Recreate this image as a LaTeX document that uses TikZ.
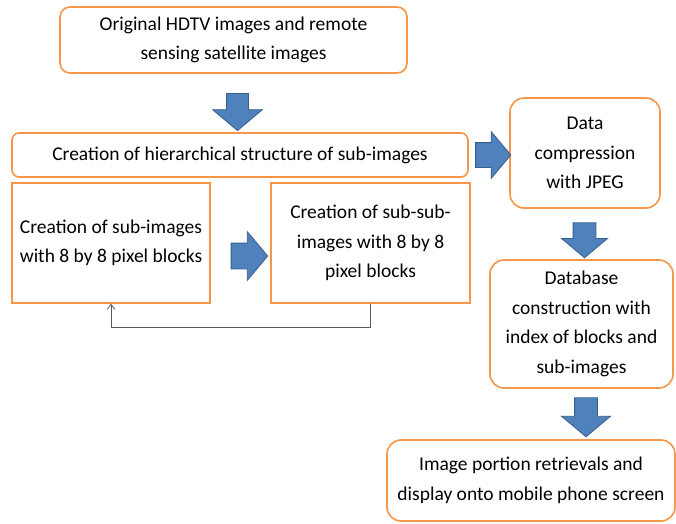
\documentclass[tikz,border=0pt]{standalone}
\usepackage{fontspec}
\setmainfont{Carlito}
\usetikzlibrary{positioning,arrows.meta,shapes.arrows}
\definecolor{orange400}{HTML}{F79646}
\definecolor{blue500}  {HTML}{4F81BD}
\definecolor{blue700}  {HTML}{3A5F8B}
\definecolor{grey700}  {HTML}{595959}
\tikzset{
  step box/.style={draw=orange400, line width=1.6pt, fill=white,
                 align=center, inner sep=0pt,
                 font=\fontsize{19.5}{29.5}\selectfont},
  rbox/.style  ={step box, rounded corners=#1},
  rbox/.default=10pt,
  sbox/.style  ={step box},
  % #1 = half the shaft width, #2 = head overhang on each side
  blk/.style 2 args={single arrow, draw=blue700, fill=blue500,
                 line width=0.8pt, inner sep=#1,
                 single arrow tip angle=100, single arrow head extend=#2},
  down/.style 2 args={blk={#1}{#2}, shape border rotate=270},
  fb/.style    ={-{Straight Barb[length=5pt,width=8pt]}, draw=grey700,
                 line width=0.8pt}
}
\begin{document}
\begin{tikzpicture}[x=1pt,y=-1pt]
\useasboundingbox (0,0) rectangle (676,523);
% Pipeline boxes, centres and sizes in pixels.
\node[rbox, minimum width=347pt, minimum height=66pt] (orig) at (233.5,40)
  {Original HDTV images and remote\\ sensing satellite images};
\node[rbox=7pt, minimum width=456pt, minimum height=44pt] (hier) at (240,155)
  {Creation of hierarchical structure of sub-images};
\node[sbox, minimum width=198pt, minimum height=120pt] (sub) at (111,243)
  {Creation of sub-images\\ with 8 by 8 pixel blocks};
\node[sbox, minimum width=199pt, minimum height=120pt] (subsub) at (370.5,243)
  {Creation of sub-sub-\\ images with 8 by 8\\ pixel blocks};
\node[rbox=14pt, minimum width=150pt, minimum height=110pt] (jpeg) at (585,153)
  {Data\\ compression\\ with JPEG};
\node[rbox=14pt, minimum width=183pt, minimum height=128pt] (dbase) at (581.5,324)
  {Database\\ construction with\\ index of blocks and\\ sub-images};
\node[rbox=14pt, minimum width=288pt, minimum height=81pt] (disp) at (531,480.5)
  {Image portion retrievals and\\ display onto mobile phone screen};

% Block arrows between the stages.
\node[down={10.5pt}{14pt}, minimum height=37pt] (a1) at (237.5,107.5) {};
\node[blk={12pt}{11pt},    minimum height=30pt] (a2) at (488,155) {};
\node[blk={12.5pt}{11.5pt},minimum height=30pt] (a3) at (244,256) {};
\node[down={11pt}{11.5pt}, minimum height=35pt] (a4) at (584.5,235.5) {};
\node[down={11pt}{13pt},   minimum height=39pt] (a5) at (586,412.5) {};

% Feedback from the sub-sub-images back to the sub-images.
\draw[fb] (subsub.south) -- ++(0,24) -| (sub.south);
\end{tikzpicture}
\end{document}
